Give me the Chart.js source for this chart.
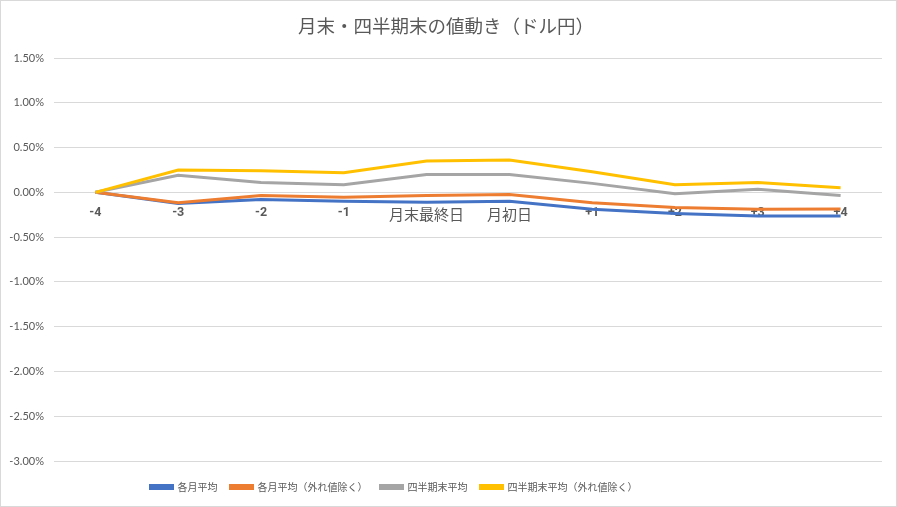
<!DOCTYPE html>
<html>
<head>
<meta charset="utf-8">
<script src="https://cdn.jsdelivr.net/npm/chart.js@4"></script>
<style>
  body { margin: 0; background: #fff; }
</style>
</head>
<body>
<canvas id="chart" width="897" height="507"></canvas>
<script>
// days around month end
const categories = ['-4', '-3', '-2', '-1', '月末最終日', '月初日', '+1', '+2', '+3', '+4'];

// values in percent
const monthlyAvg = [0, -0.125, -0.08, -0.10, -0.11, -0.10, -0.19, -0.235, -0.265, -0.265];
const monthlyAvgEx = [0, -0.115, -0.035, -0.055, -0.035, -0.025, -0.115, -0.17, -0.19, -0.185];
const quarterAvg = [0, 0.19, 0.11, 0.085, 0.20, 0.20, 0.10, -0.015, 0.035, -0.035];
const quarterAvgEx = [0, 0.25, 0.24, 0.22, 0.35, 0.36, 0.23, 0.085, 0.11, 0.05];

const seriesNames = ['各月平均', '各月平均（外れ値除く）', '四半期末平均', '四半期末平均（外れ値除く）'];
const yMin = -3.0, yMax = 1.5, yStep = 0.5;

const frame = {
  id: 'frame',
  beforeDraw(chart) {
    const c = chart.ctx;
    c.save();
    c.fillStyle = '#fff';
    c.fillRect(0, 0, chart.width, chart.height);
    c.strokeStyle = '#d9d9d9';
    c.lineWidth = 1;
    c.strokeRect(0.5, 0.5, chart.width - 1, chart.height - 1);
    c.restore();
    // excel puts the legend a bit left of centre
    if (!chart._shifted) {
      chart._shifted = true;
      const lg = chart.legend;
      lg.left -= 47; lg.right -= 47;
      lg.top += 8; lg.bottom += 8;
      const t = chart.titleBlock;
      t.left += 5; t.right += 5;
    }
  }
};

function line(label, data, color, order) {
  return {
    label: label,
    data: data,
    borderColor: color,
    backgroundColor: color,
    borderWidth: 3,
    pointRadius: 0,
    pointHoverRadius: 0,
    tension: 0,
    order: order
  };
}

new Chart(document.getElementById('chart'), {
  type: 'line',
  data: {
    labels: categories,
    datasets: [
      line(seriesNames[0], monthlyAvg, '#4472C4', 3),
      line(seriesNames[1], monthlyAvgEx, '#ED7D31', 2),
      line(seriesNames[2], quarterAvg, '#A5A5A5', 1),
      line(seriesNames[3], quarterAvgEx, '#FFC000', 0)
    ]
  },
  options: {
    responsive: false,
    animation: false,
    layout: { padding: { left: 0, right: 15, top: 0, bottom: 13 } },
    plugins: {
      title: {
        display: true,
        text: '月末・四半期末の値動き（ドル円）',
        color: '#595959',
        font: { family: '"Noto Sans CJK JP"', size: 18.5, weight: 'normal' },
        padding: { top: 14.5, bottom: 21.3 }
      },
      legend: {
        position: 'bottom',
        labels: {
          boxWidth: 22,
          boxHeight: 3,
          padding: 13,
          color: '#595959',
          font: { family: '"Noto Sans CJK JP"', size: 10 },
          sort: (a, b) => a.datasetIndex - b.datasetIndex
        }
      },
      tooltip: { enabled: false }
    },
    scales: {
      x: {
        position: { y: 0 },
        offset: true,
        grid: { display: false, drawTicks: false },
        border: { display: false },
        ticks: {
          color: '#595959',
          padding: 13,
          maxRotation: 0,
          autoSkip: false,
          font: (ctx) => (ctx.index === 4 || ctx.index === 5)
            ? { family: '"Noto Sans CJK JP"', size: 15, weight: 'normal' }
            : { family: 'Roboto', size: 12.5, weight: 'bold' }
        }
      },
      y: {
        min: yMin,
        max: yMax,
        afterFit: (scale) => { scale.width = 54; },
        grid: { color: '#d9d9d9', lineWidth: 1, drawTicks: false },
        border: { display: false },
        ticks: {
          stepSize: yStep,
          padding: 10,
          color: '#595959',
          font: { family: 'Lato', size: 11 },
          callback: (v) => v.toFixed(2) + '%'
        }
      }
    }
  },
  plugins: [frame]
});
</script>
</body>
</html>
